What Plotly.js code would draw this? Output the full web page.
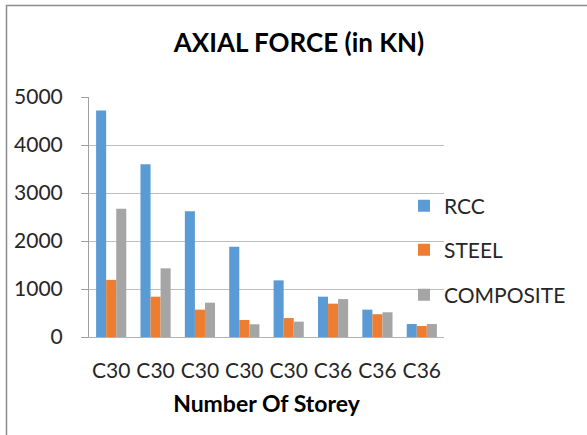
<!DOCTYPE html>
<html>
<head>
<meta charset="utf-8">
<script src="https://cdn.plot.ly/plotly-3.0.1.min.js"></script>
<style>html,body{margin:0;padding:0;background:#fff;}#chart{width:587px;height:435px;}</style>
</head>
<body>
<div id="chart"></div>
<script>
const categories = ["C30", "C30", "C30", "C30", "C30", "C36", "C36", "C36"];
const rcc = [4720, 3600, 2620, 1880, 1180, 840, 570, 270];
const steel = [1190, 840, 570, 355, 395, 695, 475, 230];
const composite = [2670, 1430, 715, 265, 320, 790, 515, 270];
const yTicks = [0, 1000, 2000, 3000, 4000, 5000];

const xs = categories.map((c, i) => i);
const FONT = "Lato, 'Open Sans', sans-serif";

const traces = [
  {type: 'bar', name: 'RCC', x: xs, y: rcc, marker: {color: '#5b9bd5'}, legend: 'legend'},
  {type: 'bar', name: 'STEEL', x: xs, y: steel, marker: {color: '#ed7d31'}, legend: 'legend2'},
  {type: 'bar', name: 'COMPOSITE', x: xs, y: composite, marker: {color: '#a5a5a5'}, legend: 'legend3'}
];

const L = 89, R = 444, T = 97, B = 337;
const W = 587, H = 435;
const px2x = p => (p - L) / (R - L);
const py2y = p => (B - p) / (B - T);

const legendBase = {
  xanchor: 'left', yanchor: 'middle', x: px2x(404),
  font: {family: FONT, size: 21, color: '#262626'},
  bgcolor: 'rgba(0,0,0,0)', borderwidth: 0
};

const layout = {
  width: W, height: H,
  margin: {l: L, r: W - R, t: T, b: H - B, pad: 0},
  paper_bgcolor: '#ffffff', plot_bgcolor: '#ffffff',
  barmode: 'group', bargap: 0.32, bargroupgap: 0,
  showlegend: true,
  title: {text: 'AXIAL FORCE (in KN)', font: {family: FONT, size: 26, color: '#000', weight: 'bold'},
          xref: 'container', yref: 'container', x: 299 / W, y: 1 - 43 / H, xanchor: 'center', yanchor: 'middle'},
  xaxis: {
    tickmode: 'array', tickvals: xs, ticktext: categories,
    range: [-0.5, categories.length - 0.5],
    showgrid: false, zeroline: false,
    showline: true, linecolor: '#b3b3b3', linewidth: 1,
    ticks: '', tickfont: {family: FONT, size: 21, color: '#262626'},
    ticklabelstandoff: 15,
    title: {text: 'Number Of Storey', font: {family: FONT, size: 23, color: '#000', weight: 'bold'}, standoff: 14}
  },
  yaxis: {
    range: [0, 5000], tickmode: 'array', tickvals: yTicks,
    showgrid: true, gridcolor: '#bdbdbd', gridwidth: 1,
    zeroline: false, showline: true, linecolor: '#a0a0a0', linewidth: 1,
    ticks: 'outside', ticklen: 7, tickcolor: '#a0a0a0',
    tickfont: {family: FONT, size: 21, color: '#262626'},
    ticklabelstandoff: 14
  },
  legend: Object.assign({}, legendBase, {y: py2y(206)}),
  legend2: Object.assign({}, legendBase, {y: py2y(250)}),
  legend3: Object.assign({}, legendBase, {y: py2y(295)}),
  shapes: [{
    type: 'rect', xref: 'paper', yref: 'paper',
    x0: px2x(6.5), x1: px2x(W + 20), y0: py2y(H + 20), y1: py2y(5.5),
    line: {color: '#8c8c8c', width: 1.5}, fillcolor: 'rgba(0,0,0,0)', layer: 'below'
  }]
};

Plotly.newPlot('chart', traces, layout, {displayModeBar: false, staticPlot: true});
</script>
</body>
</html>
